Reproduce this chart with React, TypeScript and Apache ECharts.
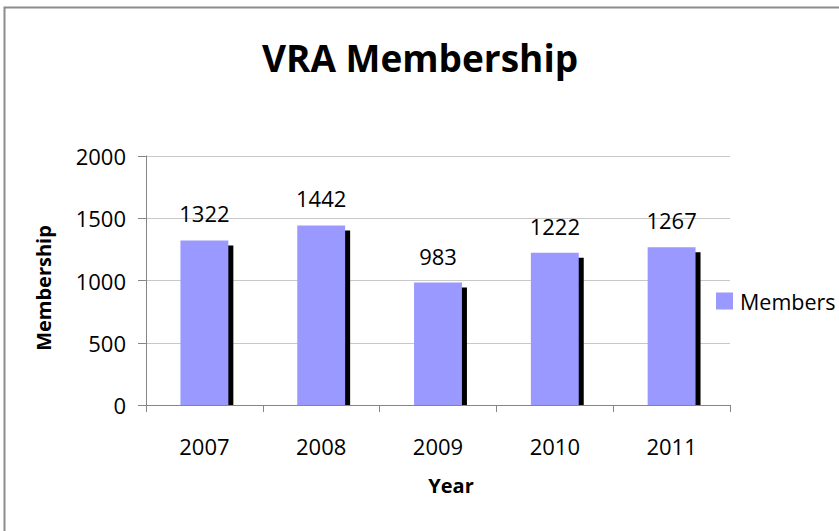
import React, { useEffect, useRef } from "react";
import * as echarts from "echarts";

const years = ["2007", "2008", "2009", "2010", "2011"];
const members = [1322, 1442, 983, 1222, 1267];
const yTicks = { min: 0, max: 2000, interval: 500 };
const seriesName = "Membership";
const xTitle = "Year";
const yTitle = "Membership";

const FONT = "'Open Sans', 'Noto Sans', sans-serif";
const BAR_RATIO = 0.41;

export default function App() {
  const ref = useRef<HTMLDivElement>(null);
  useEffect(() => {
    if (!ref.current) return;
    const chart = echarts.init(ref.current, null, { renderer: "svg" });
    chart.setOption({
      animation: false,
      backgroundColor: "#ffffff",
      textStyle: { fontFamily: FONT },
      title: {
        text: "VRA Membership",
        left: 415,
        textAlign: "center",
        top: 34,
        textStyle: { fontFamily: FONT, fontSize: 37, fontWeight: "bold", color: "#000" },
      },
      legend: {
        data: [seriesName],
        left: 711,
        top: 285,
        itemWidth: 17,
        itemHeight: 17,
        itemGap: 6,
        icon: "rect",
        textStyle: {
          fontFamily: FONT,
          fontSize: 21.5,
          color: "#000",
          padding: [0, 0, 0, 2],
          width: 98,
          overflow: "truncate",
          ellipsis: "",
        },
      },
      graphic: [
        {
          type: "polyline",
          shape: { points: [[4.5, 540], [4.5, 7.5], [850, 7.5]] },
          style: { stroke: "#8c8c8c", lineWidth: 2, fill: "none" },
          silent: true,
        },
        {
          type: "text",
          x: 451,
          y: 485,
          style: {
            text: xTitle,
            fontFamily: FONT,
            fontSize: 20,
            fontWeight: "bold",
            fill: "#000",
            align: "center",
            verticalAlign: "middle",
          },
        },
        {
          type: "text",
          x: 43,
          y: 288,
          rotation: Math.PI / 2,
          style: {
            text: yTitle,
            fontFamily: FONT,
            fontSize: 20,
            fontWeight: "bold",
            fill: "#000",
            align: "center",
            verticalAlign: "middle",
          },
        },
      ],
      grid: { left: 146, right: 109, top: 156, bottom: 126, containLabel: false },
      xAxis: {
        type: "category",
        data: years,
        axisLine: { lineStyle: { color: "#868686", width: 1 } },
        axisTick: { show: true, length: 7, lineStyle: { color: "#868686" } },
        axisLabel: { fontFamily: FONT, fontSize: 22, color: "#000", margin: 30 },
      },
      yAxis: {
        type: "value",
        min: yTicks.min,
        max: yTicks.max,
        interval: yTicks.interval,
        axisLine: { show: true, lineStyle: { color: "#868686", width: 1 } },
        axisTick: { show: true, length: 8, lineStyle: { color: "#868686" } },
        axisLabel: {
          fontFamily: FONT,
          fontSize: 22,
          color: "#000",
          margin: 20,
          formatter: (v: number) => String(v),
        },
        splitLine: { show: true, lineStyle: { color: "#c8c8c8", width: 1 } },
      },
      series: [
        {
          name: "shadow",
          type: "custom",
          silent: true,
          z: 1,
          renderItem: (params: any, api: any) => {
            const idx = api.value(0);
            const val = api.value(1);
            const top = api.coord([idx, val]);
            const base = api.coord([idx, 0]);
            const band = api.size([1, 0])[0];
            const w = band * BAR_RATIO;
            return {
              type: "rect",
              shape: { x: top[0] - w / 2 + 5, y: top[1] + 5, width: w, height: base[1] - top[1] - 5 },
              style: { fill: "#000000" },
            };
          },
          data: members.map((v, i) => [i, v]),
        },
        {
          name: seriesName,
          type: "bar",
          data: members,
          barWidth: BAR_RATIO * 100 + "%",
          z: 2,
          itemStyle: { color: "#9999FF" },
          label: {
            show: true,
            position: "top",
            distance: 16,
            fontFamily: FONT,
            fontSize: 22,
            color: "#000",
          },
        },
      ],
    });
    return () => chart.dispose();
  }, []);
  return <div ref={ref} style={{ width: 839, height: 531, position: "absolute", left: 0, top: 0 }} />;
}
